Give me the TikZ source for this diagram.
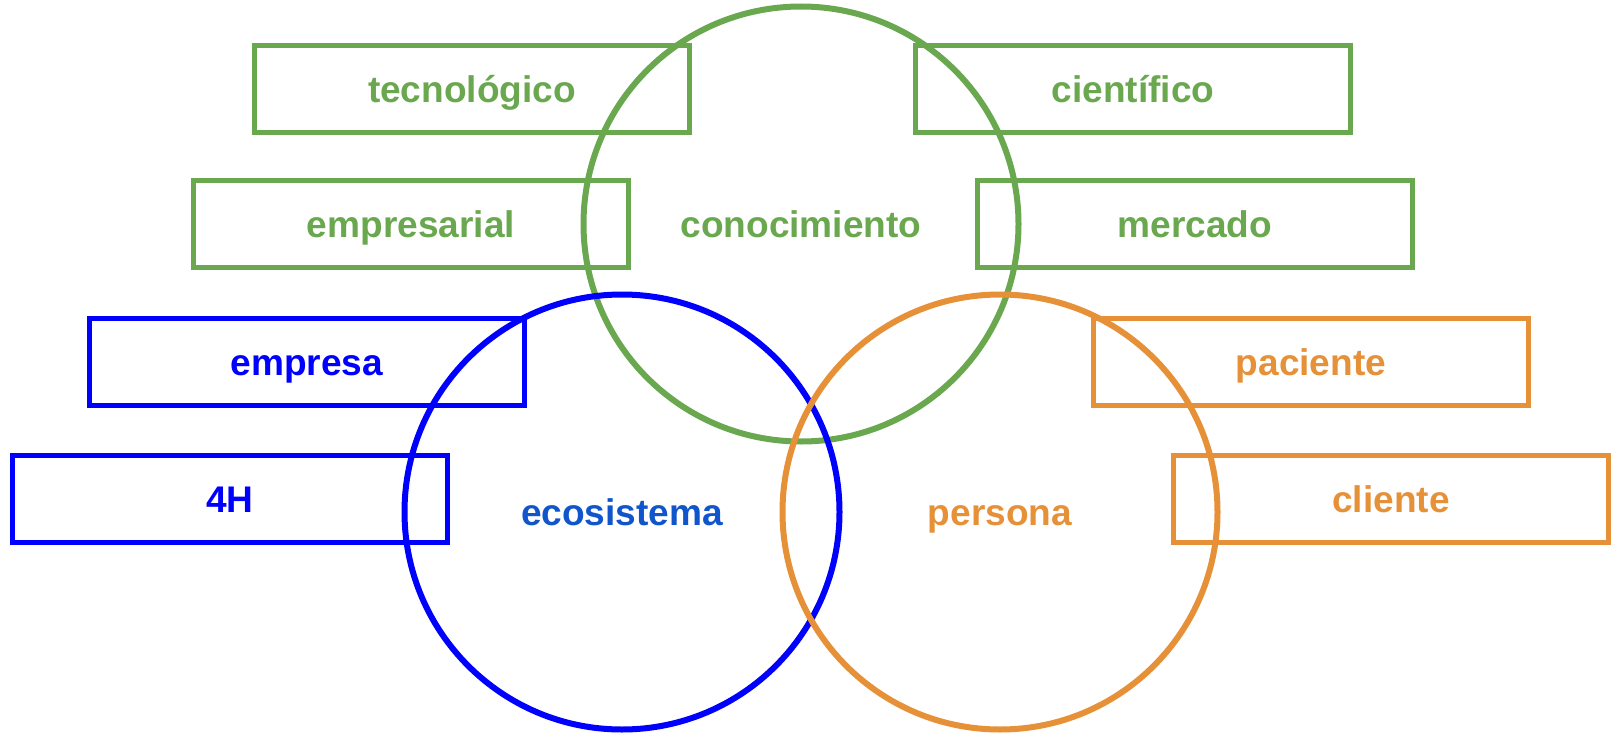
\documentclass[tikz,border=0pt]{standalone}
\usepackage{fontspec}
\setmainfont{Liberation Sans}
\definecolor{verde}{HTML}{6AA84F}
\definecolor{naranja}{HTML}{E69138}
\definecolor{azul}{HTML}{0000FF}
\definecolor{azultexto}{HTML}{1155CC}
\begin{document}
\begin{tikzpicture}[x=0.75pt,y=-0.75pt,
    box/.style={draw,rectangle,line width=4.2pt,minimum width=326.25pt,minimum height=65.25pt,inner sep=0pt,
      text height=24pt,text depth=4pt,font=\fontsize{27.8}{30}\selectfont\bfseries},
    ring/.style={draw,circle,line width=4.5pt,minimum size=326.25pt,inner sep=0pt,
      text height=24pt,text depth=4pt,font=\fontsize{27.8}{30}\selectfont\bfseries}]
    \useasboundingbox (0,0) rectangle (1613,735);

    % circulos
    \node[ring,verde] (conocimiento) at (801,224) {conocimiento};
    \node[ring,azul,text=azultexto] (ecosistema) at (622,512) {ecosistema};
    \node[ring,naranja] (persona) at (1000,512) {persona};

    % conocimiento
    \node[box,verde] (tecnologico) at (472,89) {tecnológico};
    \node[box,verde] (cientifico) at (1133,89) {científico};
    \node[box,verde] (empresarial) at (411,224) {empresarial};
    \node[box,verde] (mercado) at (1195,224) {mercado};

    % ecosistema
    \node[box,azul] (empresa) at (307,362) {empresa};
    \node[box,azul] (4H) at (230,499) {4H};

    % persona
    \node[box,naranja] (paciente) at (1311,362) {paciente};
    \node[box,naranja] (cliente) at (1391,499) {cliente};
\end{tikzpicture}
\end{document}
